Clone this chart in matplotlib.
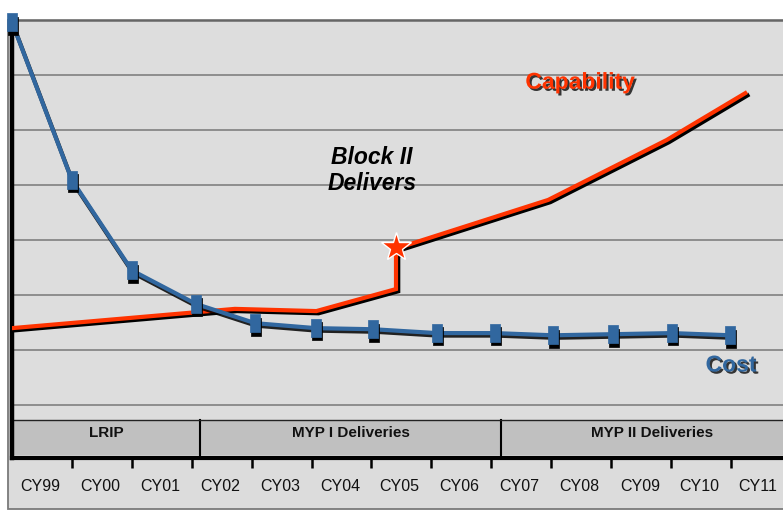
import matplotlib
matplotlib.use("Agg")
import matplotlib.pyplot as plt
import matplotlib.patheffects as pe
import matplotlib.transforms as mtransforms
from matplotlib.patches import Rectangle

plt.rcParams['font.family'] = ['Liberation Sans', 'DejaVu Sans']

# ---------------- data ----------------
years = ["CY99", "CY00", "CY01", "CY02", "CY03", "CY04", "CY05",
         "CY06", "CY07", "CY08", "CY09", "CY10", "CY11"]
year_label_pos = [0.47, 1.48, 2.48, 3.48, 4.48, 5.48, 6.47,
                  7.47, 8.47, 9.47, 10.48, 11.48, 12.45]
tick_pos = [1, 2, 3, 4, 5, 6, 7, 8, 9, 10, 11, 12]

cost_x = [0, 1, 2, 3.07, 4.06, 5.07, 6.03, 7.09, 8.06, 9.03, 10.03, 11.02, 11.99]
cost_y = [6.96, 4.09, 2.45, 1.84, 1.49, 1.40, 1.38, 1.31, 1.31, 1.27, 1.29, 1.31, 1.27]

cap_x = [0.0, 3.72, 5.08, 6.41, 6.41, 6.48, 8.95, 10.93, 12.24]
cap_y = [1.40, 1.75, 1.71, 2.11, 2.73, 2.87, 3.73, 4.82, 5.67]

block_ii_x = [6.41]
block_ii_y = [2.87]

phases = ["LRIP", "MYP I Deliveries", "MYP II Deliveries"]
phase_bounds = [0.0, 3.14, 8.16, 13.22]

# ---------------- layout ----------------
W, H = 783, 512
fig = plt.figure(figsize=(W / 100, H / 100), dpi=100)

# outer panel
fig.patches.append(Rectangle((8 / W, 3 / H), (W + 10 - 8) / W, (492 - 3) / H,
                             transform=fig.transFigure, facecolor='#dcdcdc',
                             edgecolor='#7a7a7a', lw=1.3, zorder=-10))

ax = fig.add_axes([12 / W, (H - 458) / H, (W - 12) / W, (458 - 20) / H])
ax.set_zorder(5)
ax.set_facecolor('#dddddd')
ax.set_xlim(0, 12.87)
ax.set_ylim(-0.96, 7.0)

# gridlines
for g in range(0, 7):
    ax.axhline(g, color='#808080', lw=1.2, zorder=1)
ax.axhline(7, color='#666666', lw=1.8, zorder=1)

# phase band
band_lo, band_hi = -0.91, -0.27
for i, name in enumerate(phases):
    x0, x1 = phase_bounds[i], phase_bounds[i + 1]
    ax.add_patch(Rectangle((x0, band_lo), x1 - x0, band_hi - band_lo,
                           facecolor='#c0c0c0', edgecolor='none', zorder=2))
    ax.text((x0 + x1) / 2, -0.50, name, ha='center', va='center',
            fontsize=11, fontweight='bold', color='#111111', zorder=3)
    if i > 0:
        ax.plot([x0, x0], [band_lo, band_hi], color='black', lw=1.5, zorder=3)
ax.axhline(band_hi, color='#222222', lw=1.0, zorder=3)

# spines
for s in ['top', 'right']:
    ax.spines[s].set_visible(False)
ax.spines['left'].set_linewidth(3.2)
ax.spines['left'].set_color('black')
ax.spines['bottom'].set_linewidth(3.0)
ax.spines['bottom'].set_color('black')
ax.spines['left'].set_zorder(4)
ax.spines['bottom'].set_zorder(4)

ax.set_yticks([])
ax.set_xticks(tick_pos)
ax.set_xticklabels([])
ax.tick_params(axis='x', which='major', direction='out', length=7, width=1.8,
               color='black')
ax.set_xticks(year_label_pos, minor=True)
ax.set_xticklabels(years, minor=True, fontsize=11.5, color='#111111')
ax.tick_params(axis='x', which='minor', length=0, pad=15)

# capability line
red = '#ff3300'
ax.plot(cap_x, cap_y, color=red, lw=3.0, solid_joinstyle='miter', zorder=6,
        path_effects=[pe.SimpleLineShadow(offset=(1.6, -1.6), shadow_color='black',
                                          alpha=1.0), pe.Normal()])

# cost line
blue = '#31679f'
ax.plot(cost_x, cost_y, color=blue, lw=3.0, zorder=7,
        path_effects=[pe.SimpleLineShadow(offset=(0.8, -1.8), shadow_color='black',
                                          alpha=0.85), pe.Normal()])
verts = [(-0.55, -1), (0.55, -1), (0.55, 1), (-0.55, 1), (-0.55, -1)]
shadow_tr = ax.transData + mtransforms.ScaledTranslation(0.8 / 72, -2.4 / 72,
                                                         fig.dpi_scale_trans)
ax.plot(cost_x, cost_y, linestyle='none', marker=verts, markersize=13,
        markerfacecolor='black', markeredgecolor='black', markeredgewidth=0.5,
        zorder=7.5, clip_on=False, transform=shadow_tr)
ax.plot(cost_x, cost_y, linestyle='none', marker=verts, markersize=13,
        markerfacecolor=blue, markeredgecolor=blue, markeredgewidth=0.5,
        zorder=7.6, clip_on=False)

# Block II star
ax.plot(block_ii_x, block_ii_y, marker='*', markersize=22, markerfacecolor=red,
        markeredgecolor='white', markeredgewidth=1.0, linestyle='none', zorder=8)

# annotations
shadow = [pe.SimplePatchShadow(offset=(1.5, -1.5), shadow_rgbFace='#222222', alpha=0.9),
          pe.Normal()]
ax.text(9.48, 5.87, "Capability", ha='center', va='center', fontsize=16.5,
        fontweight='bold', color=red, zorder=9, path_effects=shadow)
ax.text(12.0, 0.73, "Cost", ha='center', va='center', fontsize=16.5,
        fontweight='bold', color=blue, zorder=9, path_effects=shadow)
ax.text(6.01, 4.27, "Block II\nDelivers", ha='center', va='center',
        multialignment='center', fontsize=16.5, fontweight='bold',
        fontstyle='italic', color='black', linespacing=1.15, zorder=9)

fig.savefig("out.png", dpi=100)
